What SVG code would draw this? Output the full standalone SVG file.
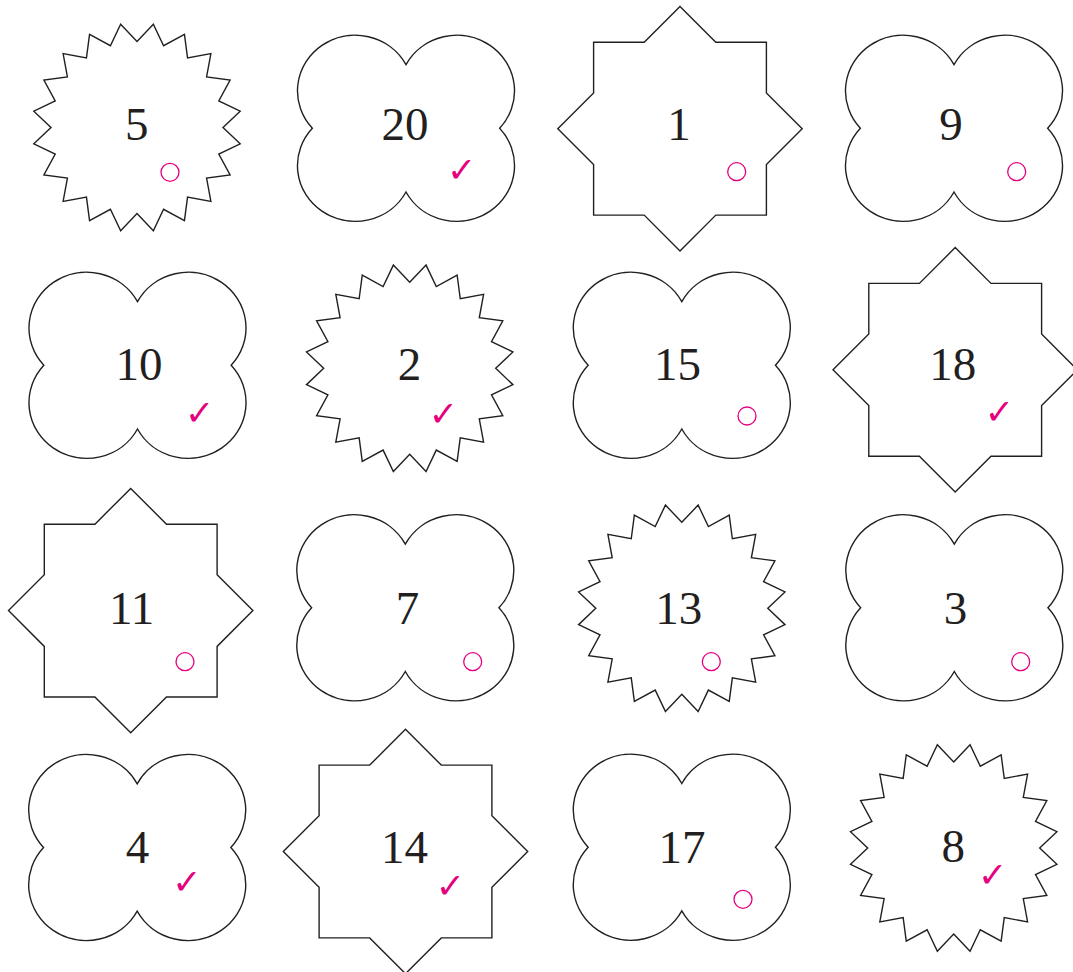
<svg xmlns="http://www.w3.org/2000/svg" width="1073" height="972" viewBox="0 0 1073 972">
<style>
.sh{fill:#fff;stroke:#231f20;stroke-width:1.4;stroke-linejoin:miter}
.num{font-family:"Liberation Serif","Times New Roman",serif;font-size:47px;fill:#231f20;text-anchor:middle}
.mk{fill:none;stroke:#e6007e;stroke-width:1.3}
.ck{font-family:"DejaVu Sans",sans-serif;font-size:35px;font-weight:bold;fill:#e6007e;text-anchor:middle}
</style>
<defs>
<path id="star" class="sh" d="M0,-86 L16.35,-103.21 L26.58,-81.79 L47.44,-93.11 L50.55,-69.58 L73.89,-73.89 L69.58,-50.55 L93.11,-47.44 L81.79,-26.58 L103.21,-16.35 L86,0 L103.21,16.35 L81.79,26.58 L93.11,47.44 L69.58,50.55 L73.89,73.89 L50.55,69.58 L47.44,93.11 L26.58,81.79 L16.35,103.21 L0,86 L-16.35,103.21 L-26.58,81.79 L-47.44,93.11 L-50.55,69.58 L-73.89,73.89 L-69.58,50.55 L-93.11,47.44 L-81.79,26.58 L-103.21,16.35 L-86,0 L-103.21,-16.35 L-81.79,-26.58 L-93.11,-47.44 L-69.58,-50.55 L-73.89,-73.89 L-50.55,-69.58 L-47.44,-93.11 L-26.58,-81.79 L-16.35,-103.21 Z"/>
<path id="clover" class="sh" d="M0,-63.7 A57.7 55.7 0 1 1 93.65,0 A57.7 55.7 0 1 1 0,63.7 A57.7 55.7 0 1 1 -93.65,0 A57.7 55.7 0 1 1 0,-63.7 Z"/>
<path id="oct" class="sh" d="M0,-122.2 L35.8,-86.4 L86.4,-86.4 L86.4,-35.8 L122.2,0 L86.4,35.8 L86.4,86.4 L35.8,86.4 L0,122.2 L-35.8,86.4 L-86.4,86.4 L-86.4,35.8 L-122.2,0 L-86.4,-35.8 L-86.4,-86.4 L-35.8,-86.4 Z"/>
</defs>
<g id="connectors"></g>

<g id="n5"><use href="#star" x="137" y="127.5"/><text class="num" x="136.7" y="140">5</text><circle class="mk" cx="170" cy="172.3" r="9"/></g>
<g id="n20"><use href="#clover" x="406" y="128.3"/><text class="num" x="405" y="140">20</text><text class="ck" x="461.7" y="182">✓</text></g>
<g id="n1"><use href="#oct" x="680" y="128.7"/><text class="num" x="679" y="140">1</text><circle class="mk" cx="736.7" cy="171.7" r="9"/></g>
<g id="n9"><use href="#clover" x="954" y="128.3"/><text class="num" x="951" y="140">9</text><circle class="mk" cx="1016.7" cy="171.7" r="9"/></g>

<g id="n10"><use href="#clover" x="137.5" y="365.3"/><text class="num" x="139" y="380">10</text><text class="ck" x="199.7" y="424.5">✓</text></g>
<g id="n2"><use href="#star" x="409.7" y="368.3"/><text class="num" x="409.5" y="380">2</text><text class="ck" x="443.3" y="426">✓</text></g>
<g id="n15"><use href="#clover" x="681.8" y="365.3"/><text class="num" x="677.4" y="380">15</text><circle class="mk" cx="747" cy="416" r="9"/></g>
<g id="n18"><use href="#oct" x="955.2" y="369.8"/><text class="num" x="952.7" y="380">18</text><text class="ck" x="999.3" y="423.5">✓</text></g>

<g id="n11"><use href="#oct" x="130.7" y="610.6"/><text class="num" x="131.7" y="624">11</text><circle class="mk" cx="185" cy="661.7" r="9"/></g>
<g id="n7"><use href="#clover" x="405.3" y="607.8"/><text class="num" x="407.5" y="624">7</text><circle class="mk" cx="472.7" cy="661.7" r="9"/></g>
<g id="n13"><use href="#star" x="681.8" y="608.3"/><text class="num" x="678.8" y="624">13</text><circle class="mk" cx="711.3" cy="661.7" r="9"/></g>
<g id="n3"><use href="#clover" x="954.3" y="607.8"/><text class="num" x="955.5" y="624">3</text><circle class="mk" cx="1020.7" cy="661.7" r="9"/></g>

<g id="n4"><use href="#clover" x="137.2" y="847.5"/><text class="num" x="137.4" y="862.5">4</text><text class="ck" x="187" y="893.5">✓</text></g>
<g id="n14"><use href="#oct" x="405.5" y="851.5"/><text class="num" x="404.4" y="862.5">14</text><text class="ck" x="450.5" y="898">✓</text></g>
<g id="n17"><use href="#clover" x="681.8" y="847.2"/><text class="num" x="682" y="862.5">17</text><circle class="mk" cx="743" cy="899.3" r="9"/></g>
<g id="n8"><use href="#star" x="953.7" y="848"/><text class="num" x="953.3" y="862">8</text><text class="ck" x="992.7" y="887">✓</text></g>
</svg>
